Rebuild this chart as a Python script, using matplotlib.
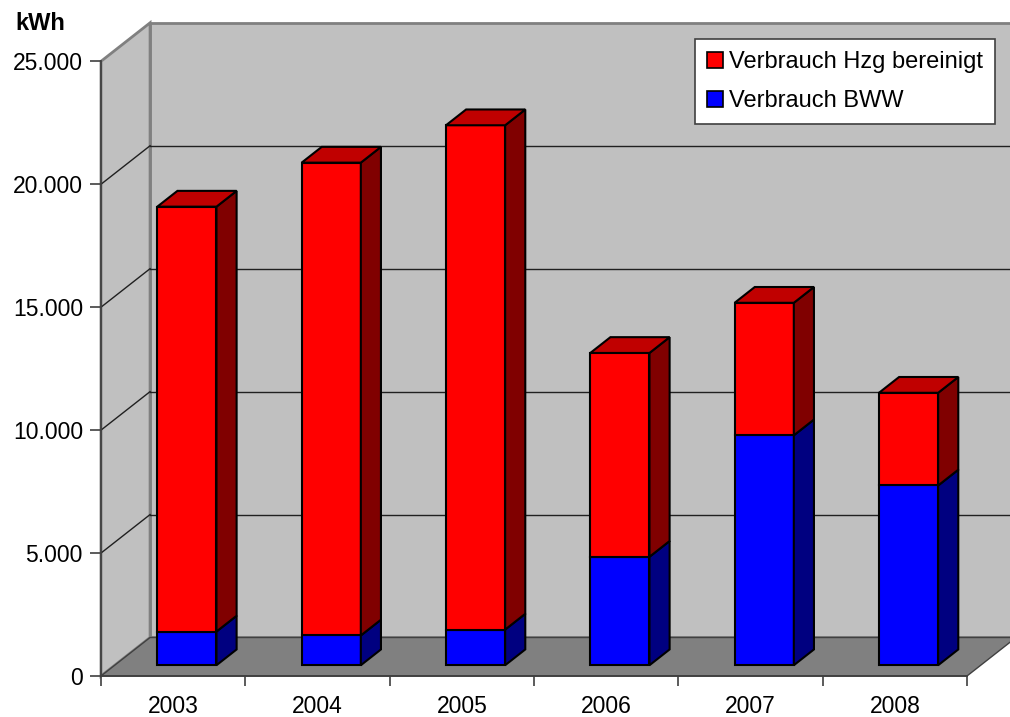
import matplotlib
matplotlib.use('Agg')
import matplotlib.pyplot as plt
from matplotlib.patches import Polygon, Patch

plt.rcParams['font.family'] = ['Liberation Sans', 'DejaVu Sans']

# data (kWh)
years = ['2003', '2004', '2005', '2006', '2007', '2008']
bww = [1370, 1210, 1450, 4410, 9350, 7310]
hzg = [17280, 19230, 20510, 8290, 5390, 3770]
series_names = ['Verbrauch Hzg bereinigt', 'Verbrauch BWW']
YMAX = 25000
YSTEP = 5000

# oblique 3d look
DX = 0.34      # full depth in x data units
DY = 1566      # full depth in y data units
FRONT = 0.28   # bar front plane (fraction of depth)
DEPTH = 0.41   # bar depth (fraction of depth)
BAR_W = 0.41

RED = ('#ff0000', '#800000', '#c00000')
BLUE = ('#0000ff', '#000080', '#0000c0')


def poly(ax, pts, fc, ec='black', lw=1.5, z=3):
    ax.add_patch(Polygon(pts, closed=True, facecolor=fc, edgecolor=ec,
                         lw=lw, clip_on=False, zorder=z, joinstyle='miter'))


def draw_box(ax, x0, x1, y0, y1, cols, top=False):
    ox, oy = FRONT * DX, FRONT * DY
    dx, dy = DEPTH * DX, DEPTH * DY
    a, b = x0 + ox, x1 + ox
    c, d = y0 + oy, y1 + oy
    poly(ax, [(a, c), (b, c), (b, d), (a, d)], cols[0])
    poly(ax, [(b, c), (b + dx, c + dy), (b + dx, d + dy), (b, d)], cols[1])
    if top:
        poly(ax, [(a, d), (b, d), (b + dx, d + dy), (a + dx, d + dy)], cols[2])


fig = plt.figure(figsize=(10.10, 7.17), dpi=100)
ax = fig.add_axes([101 / 1010, 41 / 717, 866 / 1010, 614.7 / 717])
ax.set_xlim(0, len(years))
ax.set_ylim(0, YMAX)
ax.patch.set_alpha(0)

n = len(years)
# walls and floor
poly(ax, [(DX, DY), (n + DX, DY), (n + DX, YMAX + DY), (DX, YMAX + DY)],
     '#c0c0c0', ec='#808080', lw=2, z=0)
poly(ax, [(0, 0), (0, YMAX), (DX, YMAX + DY), (DX, DY)],
     '#c0c0c0', ec='#808080', lw=2, z=0.5)
poly(ax, [(0, 0), (n, 0), (n + DX, DY), (DX, DY)],
     '#808080', ec='#404040', lw=1, z=0.6)

for v in range(YSTEP, YMAX, YSTEP):
    ax.plot([DX, n + DX], [v + DY, v + DY], color='#202020', lw=1,
            clip_on=False, zorder=1)
    ax.plot([0, DX], [v, v + DY], color='#202020', lw=1,
            clip_on=False, zorder=1)

# bars
for i in range(n):
    x0 = i + 0.5 - BAR_W / 2
    x1 = i + 0.5 + BAR_W / 2
    draw_box(ax, x0, x1, 0, bww[i], BLUE)
    draw_box(ax, x0, x1, bww[i], bww[i] + hzg[i], RED, top=True)

# axes
for s in ['top', 'right']:
    ax.spines[s].set_visible(False)
for s in ['left', 'bottom']:
    ax.spines[s].set_color('#404040')
    ax.spines[s].set_linewidth(1.3)
    ax.spines[s].set_zorder(2)

yt = list(range(0, YMAX + 1, YSTEP))
ax.set_yticks(yt)
ax.set_yticklabels([f'{v:,}'.replace(',', '.') for v in yt], fontsize=16.5)
ax.tick_params(axis='y', direction='out', length=8, width=1.2,
               color='#404040', pad=5)
ax.set_xticks(range(n + 1))
ax.set_xticklabels([])
ax.set_xticks([i + 0.5 for i in range(n)], minor=True)
ax.set_xticklabels(years, minor=True, fontsize=16.5)
ax.tick_params(axis='x', which='major', direction='out', length=7,
               width=1.2, color='#404040')
ax.tick_params(axis='x', which='minor', length=0, pad=14)

fig.text(15 / 1010, 1 - 12 / 717, 'kWh', fontsize=17, fontweight='bold',
         ha='left', va='top')

handles = [Patch(facecolor=RED[0], edgecolor='black', lw=1.2),
           Patch(facecolor=BLUE[0], edgecolor='black', lw=1.2)]
leg = ax.legend(handles, series_names, loc='upper right',
                bbox_to_anchor=(995 / 1010, 1 - 39.3 / 717),
                bbox_transform=fig.transFigure, fontsize=17,
                fancybox=False, framealpha=1, edgecolor='#404040',
                handlelength=0.68, handleheight=0.68, handletextpad=0.28,
                labelspacing=0.72, borderpad=0.5, borderaxespad=0)
leg.get_frame().set_linewidth(1.2)
leg.set_zorder(10)

fig.savefig('out.png', dpi=100)
